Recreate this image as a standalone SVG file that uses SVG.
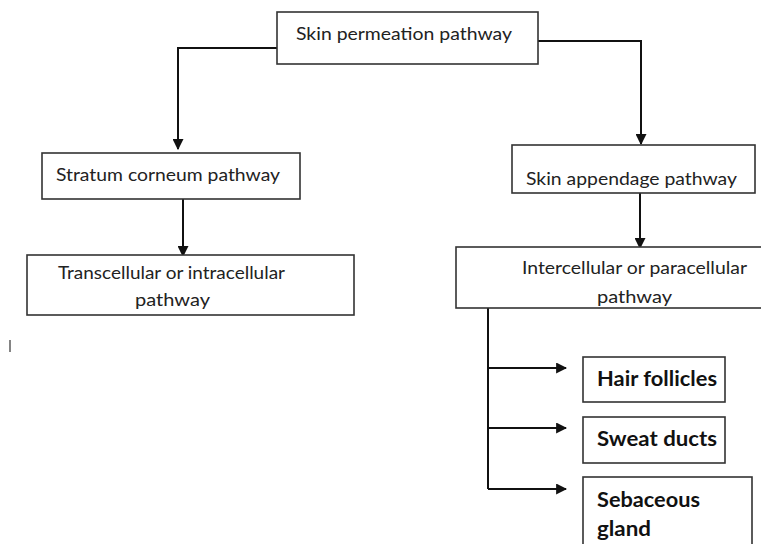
<svg xmlns="http://www.w3.org/2000/svg" width="761" height="544" viewBox="0 0 761 544">
<style>
.box{fill:#fff;stroke:#333;stroke-width:1.6}
.t{font-family:Lato,"Open Sans","Liberation Sans",sans-serif;font-size:18px;fill:#222}
.b{font-family:Lato,"Open Sans","Liberation Sans",sans-serif;font-size:20px;font-weight:bold;fill:#111}
.c{fill:none;stroke:#111;stroke-width:2}
</style>
<defs>
<marker id="ah" viewBox="0 0 10 10" refX="9" refY="5" markerWidth="5.5" markerHeight="5.5" orient="auto" markerUnits="strokeWidth">
<path d="M0,0 L10,5 L0,10 z" fill="#111"/>
</marker>
</defs>
<rect width="761" height="544" fill="#fff"/>
<g id="connectors">
<path class="c" d="M277,48 H178 V149" marker-end="url(#ah)"/>
<path class="c" d="M538,41 H641 V144" marker-end="url(#ah)"/>
<path class="c" d="M183,199 V256" marker-end="url(#ah)"/>
<path class="c" d="M640,193 V248" marker-end="url(#ah)"/>
<path class="c" d="M488,308 V489"/>
<path class="c" d="M488,368 H566" marker-end="url(#ah)"/>
<path class="c" d="M488,428 H566" marker-end="url(#ah)"/>
<path class="c" d="M488,489 H566" marker-end="url(#ah)"/>
</g>
<g id="n-top">
<rect class="box" x="277" y="12" width="261" height="52"/>
<text class="t" x="296" y="40" textLength="216" lengthAdjust="spacingAndGlyphs">Skin permeation pathway</text>
</g>
<g id="n-stratum">
<rect class="box" x="42" y="153" width="258" height="46"/>
<text class="t" x="56" y="181" textLength="224" lengthAdjust="spacingAndGlyphs">Stratum corneum pathway</text>
</g>
<g id="n-trans">
<rect class="box" x="27" y="255" width="327" height="60"/>
<text class="t" x="58" y="279" textLength="227" lengthAdjust="spacingAndGlyphs">Transcellular or intracellular</text>
<text class="t" x="135" y="306" textLength="75" lengthAdjust="spacingAndGlyphs">pathway</text>
</g>
<g id="n-append">
<rect class="box" x="512" y="145" width="243" height="48"/>
<text class="t" x="526" y="185" textLength="211" lengthAdjust="spacingAndGlyphs">Skin appendage pathway</text>
</g>
<g id="n-inter">
<rect class="box" x="456" y="247" width="310" height="61"/>
<text class="t" x="522" y="274" textLength="225" lengthAdjust="spacingAndGlyphs">Intercellular or paracellular</text>
<text class="t" x="597" y="303" textLength="75" lengthAdjust="spacingAndGlyphs">pathway</text>
</g>
<g id="n-hair">
<rect class="box" x="583" y="357" width="142" height="45"/>
<text class="b" x="597" y="386" textLength="120" lengthAdjust="spacingAndGlyphs">Hair follicles</text>
</g>
<g id="n-sweat">
<rect class="box" x="583" y="417" width="142" height="46"/>
<text class="b" x="597" y="446" textLength="120" lengthAdjust="spacingAndGlyphs">Sweat ducts</text>
</g>
<g id="n-seb">
<rect class="box" x="583" y="477" width="169" height="80"/>
<text class="b" x="597" y="507" textLength="103" lengthAdjust="spacingAndGlyphs">Sebaceous</text>
<text class="b" x="597" y="536" textLength="54" lengthAdjust="spacingAndGlyphs">gland</text>
</g>
<line x1="10" y1="340" x2="10" y2="352" stroke="#333" stroke-width="1.2"/>
</svg>
